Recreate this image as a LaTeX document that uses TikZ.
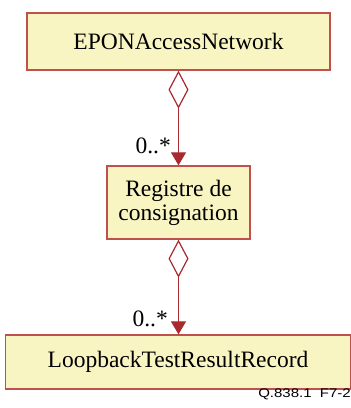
\documentclass[tikz,border=0pt]{standalone}
\usepackage{fontspec}
\setmainfont{Liberation Serif}
\setsansfont{Liberation Sans}
\usetikzlibrary{arrows.meta}
\definecolor{boxfill}{HTML}{F9F5C3}
\definecolor{boxline}{HTML}{C0504D}
\definecolor{linkred}{HTML}{A8292E}
\tikzset{
  classbox/.style={draw=boxline, line width=1.3pt, fill=boxfill, inner sep=0pt,
    font=\fontsize{23.5}{24}\selectfont, align=center},
  aggr/.style={draw=linkred, line width=1.2pt,
    {Diamond[open, fill=white, length=38pt, width=20pt]}-{Triangle[length=13pt, width=15pt]}},
  mult/.style={font=\fontsize{23.5}{24}\selectfont, inner sep=0pt, anchor=east}
}
\begin{document}
\begin{tikzpicture}[x=1pt,y=1pt]
\useasboundingbox (0,0) rectangle (351,408);
\node[classbox, minimum width=303pt, minimum height=57pt] (top) at (178.5,366.5) {EPONAccessNetwork};
\node[classbox, minimum width=143pt, minimum height=73pt] (mid) at (178.5,205.5) {Registre de\\consignation};
\node[classbox, minimum width=345pt, minimum height=54pt] (bot) at (178,46) {LoopbackTestResultRecord};
\draw[aggr] (top.south) -- (mid.north);
\draw[aggr] (mid.south) -- (bot.north -| mid.south);
\node[mult] (m1) at (171,262) {0..*};
\node[mult] (m2) at (168,89) {0..*};
\node[font=\sffamily\fontsize{12.5}{13}\selectfont, inner sep=0pt, anchor=east] (fig) at (351,14) {\scalebox{1.2}[1]{Q.838.1\ \ F7-2}};
\end{tikzpicture}
\end{document}
